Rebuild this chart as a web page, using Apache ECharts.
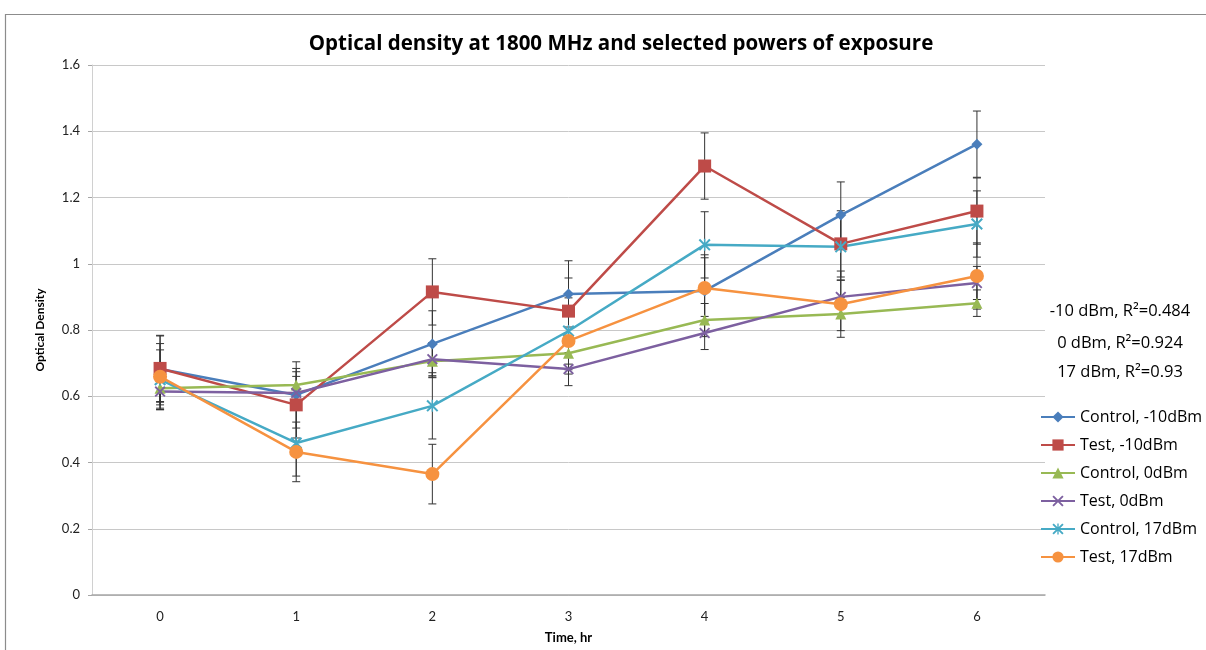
<!DOCTYPE html>
<html>
<head>
<meta charset="utf-8">
<script src="https://cdn.jsdelivr.net/npm/echarts@6/dist/echarts.min.js"></script>
<style>
html,body{margin:0;padding:0;background:#fff;}
#chart{width:1206px;height:650px;}
</style>
</head>
<body>
<div id="chart"></div>
<script>
const categories = ['0', '1', '2', '3', '4', '5', '6'];
const seriesNames = ['Control, -10dBm', 'Test, -10dBm', 'Control, 0dBm', 'Test, 0dBm', 'Control, 17dBm', 'Test, 17dBm'];
const controlM10 = [0.682, 0.604, 0.758, 0.909, 0.918, 1.147, 1.361];
const testM10    = [0.684, 0.574, 0.915, 0.857, 1.295, 1.060, 1.159];
const control0   = [0.624, 0.634, 0.706, 0.730, 0.830, 0.848, 0.881];
const test0      = [0.614, 0.610, 0.712, 0.682, 0.791, 0.900, 0.942];
const control17  = [0.650, 0.459, 0.571, 0.797, 1.057, 1.051, 1.120];
const test17     = [0.659, 0.432, 0.365, 0.767, 0.927, 0.878, 0.963];
const errControlM10 = [0.10, 0.10, 0.10, 0.10, 0.10, 0.10, 0.10];
const errTestM10    = [0.10, 0.10, 0.10, 0.10, 0.10, 0.10, 0.10];
const errControl0   = [0.05, 0.05, 0.05, 0.05, 0.05, 0.05, 0.04];
const errTest0      = [0.05, 0.05, 0.05, 0.05, 0.05, 0.05, 0.05];
const errControl17  = [0.09, 0.10, 0.10, 0.10, 0.10, 0.10, 0.10];
const errTest17     = [0.10, 0.09, 0.09, 0.10, 0.10, 0.10, 0.10];
const yTicks = [0, 0.2, 0.4, 0.6, 0.8, 1, 1.2, 1.4, 1.6];
const annotations = ['-10 dBm, R²=0.484', '0 dBm, R²=0.924', '17 dBm, R²=0.93'];

const values = [controlM10, testM10, control0, test0, control17, test17];
const errors = [errControlM10, errTestM10, errControl0, errTest0, errControl17, errTest17];
const colors = ['#4A7EBB', '#BE4B48', '#98B954', '#7D60A0', '#46AAC5', '#F69240'];
const xPath = 'path://M0,1.2L1.2,0L5,3.8L8.8,0L10,1.2L6.2,5L10,8.8L8.8,10L5,6.2L1.2,10L0,8.8L3.8,5Z';
const starPath = 'path://M0,1.2L1.2,0L5,3.8L8.8,0L10,1.2L6.2,5L10,8.8L8.8,10L5,6.2L1.2,10L0,8.8L3.8,5Z M4.4,0L5.6,0L5.6,10L4.4,10Z';
const symbols = ['diamond', 'rect', 'triangle', xPath, starPath, 'circle'];
const symbolSizes = [11, 13, 11, 11, 12, 14];

const FONT = 'Lato, "Open Sans", sans-serif';
const WIDE = '"Open Sans", Lato, sans-serif';

const series = [];
values.forEach((vals, i) => {
  series.push({
    type: 'custom',
    name: seriesNames[i] + ' err',
    z: 1,
    silent: true,
    data: vals.map((v, k) => [k, v - errors[i][k], v + errors[i][k]]),
    renderItem: function (params, api) {
      const lo = api.coord([api.value(0), api.value(1)]);
      const hi = api.coord([api.value(0), api.value(2)]);
      const w = 4;
      const st = { stroke: '#333', lineWidth: 1 };
      return {
        type: 'group',
        children: [
          { type: 'line', shape: { x1: lo[0], y1: lo[1], x2: hi[0], y2: hi[1] }, style: st },
          { type: 'line', shape: { x1: lo[0] - w, y1: lo[1], x2: lo[0] + w, y2: lo[1] }, style: st },
          { type: 'line', shape: { x1: hi[0] - w, y1: hi[1], x2: hi[0] + w, y2: hi[1] }, style: st }
        ]
      };
    }
  });
});
values.forEach((vals, i) => {
  series.push({
    type: 'line',
    name: seriesNames[i],
    z: 3,
    data: vals,
    symbol: symbols[i],
    symbolSize: symbolSizes[i],
    showAllSymbol: true,
    lineStyle: { color: colors[i], width: 2.5 },
    itemStyle: { color: colors[i] },
    emphasis: { disabled: true }
  });
});

const chart = echarts.init(document.getElementById('chart'), null, { renderer: 'canvas' });
chart.setOption({
  animation: false,
  backgroundColor: '#fff',
  title: {
    text: 'Optical density at 1800 MHz and selected powers of exposure',
    left: 616, top: 29, textAlign: 'center',
    textStyle: { fontFamily: WIDE, fontSize: 20.5, fontWeight: 'bold', color: '#000' }
  },
  grid: { left: 92, right: 161, top: 65, bottom: 55, outerBoundsMode: 'none', containLabel: false },
  legend: {
    data: seriesNames,
    orient: 'vertical',
    left: 1035, top: 404,
    itemWidth: 34, itemHeight: 14, itemGap: 12,
    textStyle: { fontFamily: WIDE, fontSize: 16, color: '#000' }
  },
  xAxis: {
    type: 'category',
    data: categories,
    boundaryGap: true,
    name: 'Time, hr', nameLocation: 'middle', nameGap: 36,
    nameTextStyle: { fontFamily: FONT, fontSize: 13, fontWeight: 'bold', color: '#000' },
    axisLine: { lineStyle: { color: '#A6A6A6', width: 1.5 } },
    axisTick: { show: false },
    axisLabel: { fontFamily: FONT, fontSize: 13, color: '#222', margin: 15 }
  },
  yAxis: {
    type: 'value',
    min: 0, max: 1.6, interval: 0.2,
    name: 'Optical Density', nameLocation: 'middle', nameGap: 46, nameRotate: 90,
    nameTextStyle: { fontFamily: FONT, fontSize: 12, fontWeight: 'bold', color: '#000' },
    axisLine: { show: true, lineStyle: { color: '#D0D0D0' } },
    axisTick: { show: true, length: 4, lineStyle: { color: '#A6A6A6' } },
    axisLabel: {
      fontFamily: FONT, fontSize: 13, color: '#222', margin: 12,
      formatter: function (v) {
        const t = yTicks.find(x => Math.abs(x - v) < 1e-9);
        return String(t !== undefined ? t : v);
      }
    },
    splitLine: { lineStyle: { color: '#C8C8C8', width: 1 } }
  },
  graphic: [
    { type: 'rect', shape: { x: 5.5, y: 14.5, width: 1300, height: 700 }, style: { fill: 'none', stroke: '#8C8C8C', lineWidth: 1.2 }, silent: true, z: -10 },
    { type: 'text', x: 1120, y: 311, style: { text: annotations[0], fontFamily: WIDE, fontSize: 16.5, fill: '#000', textAlign: 'center', textVerticalAlign: 'middle' } },
    { type: 'text', x: 1120, y: 343, style: { text: annotations[1], fontFamily: WIDE, fontSize: 16.5, fill: '#000', textAlign: 'center', textVerticalAlign: 'middle' } },
    { type: 'text', x: 1120, y: 372, style: { text: annotations[2], fontFamily: WIDE, fontSize: 16.5, fill: '#000', textAlign: 'center', textVerticalAlign: 'middle' } }
  ],
  series: series
});
</script>
</body>
</html>
